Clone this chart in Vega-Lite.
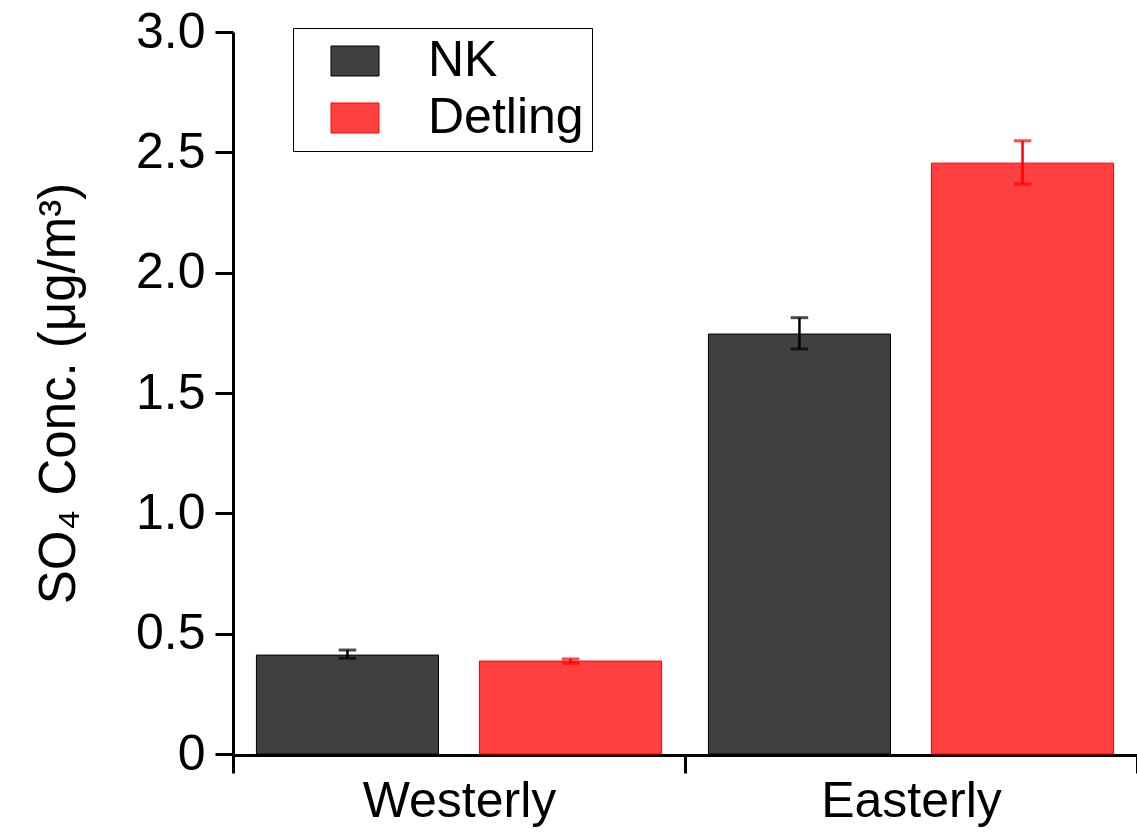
{
  "$schema": "https://vega.github.io/schema/vega-lite/v6.json",
  "width": 904,
  "height": 722,
  "autosize": {"type": "none"},
  "padding": {"left": 233, "top": 32, "right": 0, "bottom": 79},
  "background": "white",
  "config": {
    "font": "Liberation Sans",
    "view": {"stroke": null},
    "axis": {
      "domainColor": "#000000",
      "domainWidth": 3,
      "tickColor": "#000000",
      "tickWidth": 3,
      "tickSize": 18,
      "labelFontSize": 50,
      "labelColor": "#000000",
      "labelLimit": 500,
      "titleFontSize": 51,
      "titleColor": "#000000",
      "titleFontWeight": "normal",
      "grid": false
    }
  },
  "data": {
    "values": [
      {"wind": "Westerly", "site": "NK", "value": 0.411, "lo": 0.398, "hi": 0.432},
      {"wind": "Westerly", "site": "Detling", "value": 0.386, "lo": 0.377, "hi": 0.395},
      {"wind": "Easterly", "site": "NK", "value": 1.745, "lo": 1.683, "hi": 1.813},
      {"wind": "Easterly", "site": "Detling", "value": 2.455, "lo": 2.368, "hi": 2.548}
    ]
  },
  "encoding": {
    "x": {
      "field": "wind",
      "type": "nominal",
      "scale": {"domain": ["Westerly", "Easterly"], "paddingInner": 0, "paddingOuter": 0},
      "axis": {"title": null, "labelAngle": 0, "tickBand": "extent", "labelPadding": 3, "offset": 1, "labelLimit": 500}
    },
    "xOffset": {
      "field": "site",
      "type": "nominal",
      "scale": {"domain": ["NK", "Detling"], "paddingInner": 0.184, "paddingOuter": 0.105}
    }
  },
  "layer": [
    {
      "mark": {"type": "bar", "strokeWidth": 1},
      "encoding": {
        "y": {
          "field": "value",
          "type": "quantitative",
          "scale": {"domain": [0, 3], "nice": false},
          "axis": {
            "values": [0, 0.5, 1, 1.5, 2, 2.5, 3],
            "labelExpr": "datum.value == 0 ? '0' : format(datum.value, '.1f')",
            "labelPadding": 10,
            "title": "SO₄ Conc. (μg/m³)",
            "titlePadding": 50
          }
        },
        "fill": {
          "field": "site",
          "type": "nominal",
          "scale": {"domain": ["NK", "Detling"], "range": ["#404040", "#ff4040"]},
          "legend": {
            "title": null,
            "orient": "none",
            "legendX": 60,
            "legendY": -4,
            "padding": 8,
            "symbolOffset": 29,
            "rowPadding": 7,
            "labelOffset": 48,
            "labelFontSize": 50,
            "labelColor": "#000000",
            "labelLimit": 400,
            "symbolType": "M-1,-0.625H1V0.625H-1Z",
            "symbolSize": 2304,
            "symbolStrokeWidth": 1,
            "strokeColor": "#000000",
            "fillColor": "#ffffff"
          }
        },
        "stroke": {
          "field": "site",
          "type": "nominal",
          "scale": {"domain": ["NK", "Detling"], "range": ["#000000", "#ff0000"]},
          "legend": {
            "title": null,
            "orient": "none",
            "legendX": 60,
            "legendY": -4,
            "padding": 8,
            "symbolOffset": 29,
            "rowPadding": 7,
            "labelOffset": 48,
            "labelFontSize": 50,
            "labelColor": "#000000",
            "labelLimit": 400,
            "symbolType": "M-1,-0.625H1V0.625H-1Z",
            "symbolSize": 2304,
            "symbolStrokeWidth": 1,
            "strokeColor": "#000000",
            "fillColor": "#ffffff"
          }
        }
      }
    },
    {
      "mark": {"type": "rule", "strokeWidth": 2.5},
      "encoding": {
        "y": {"field": "lo", "type": "quantitative"},
        "y2": {"field": "hi"},
        "stroke": {"field": "site", "type": "nominal"}
      }
    },
    {
      "mark": {"type": "tick", "size": 15, "thickness": 0.5, "strokeWidth": 2.5, "fill": "transparent"},
      "encoding": {
        "y": {"field": "lo", "type": "quantitative"},
        "stroke": {"field": "site", "type": "nominal"}
      }
    },
    {
      "mark": {"type": "tick", "size": 15, "thickness": 0.5, "strokeWidth": 2.5, "fill": "transparent"},
      "encoding": {
        "y": {"field": "hi", "type": "quantitative"},
        "stroke": {"field": "site", "type": "nominal"}
      }
    }
  ]
}
